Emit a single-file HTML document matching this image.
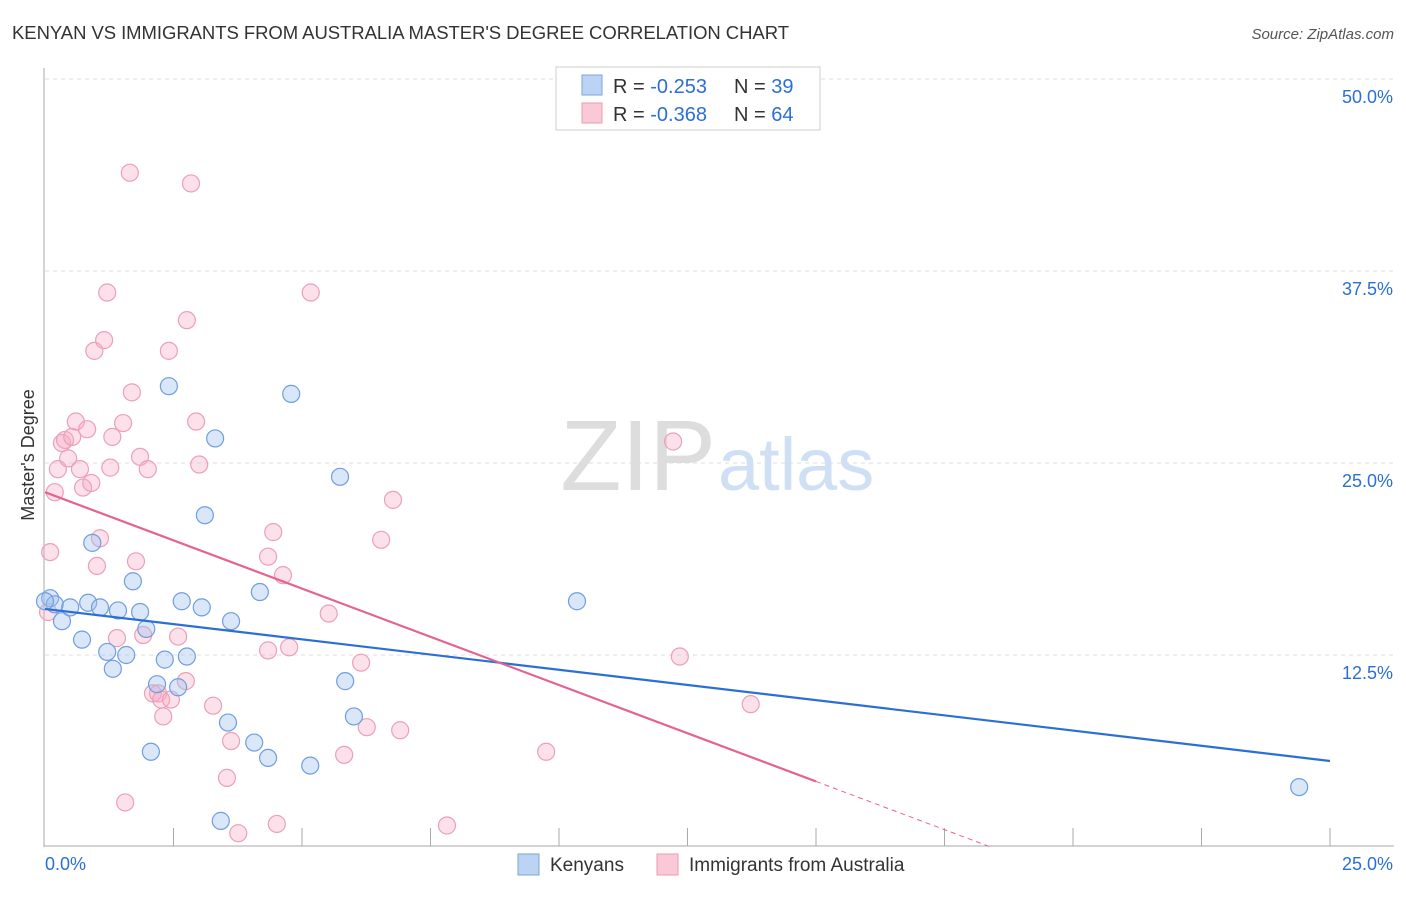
<!DOCTYPE html>
<html><head><meta charset="utf-8"><style>
body{margin:0;background:#fff;font-family:"Liberation Sans",sans-serif;}
svg text{font-family:"Liberation Sans",sans-serif;}
</style></head><body>
<svg id="chart" width="1406" height="892">
<text x="12" y="39" font-size="18.5" fill="#333" textLength="777">KENYAN VS IMMIGRANTS FROM AUSTRALIA MASTER'S DEGREE CORRELATION CHART</text>
<text x="1394" y="39" font-size="15" fill="#555" font-style="italic" text-anchor="end">Source: ZipAtlas.com</text>
<g id="grid"></g>
<text x="716" y="490" font-size="100" fill="#ddd" font-family="Liberation Serif" text-anchor="end">ZIP</text>
<text x="718" y="490" font-size="74" fill="#cfe0f5">atlas</text>
<text transform="translate(34,455) rotate(-90)" font-size="18" fill="#333" text-anchor="middle">Master's Degree</text>
<g id="points"></g>
<g id="lines"></g>
<g>
<rect x="556" y="67" width="264" height="63" fill="#fff" stroke="#ccc"/>
<rect x="582" y="75" width="20" height="20" fill="#bcd3f3" stroke="#7aa3e0"/>
<text x="613" y="93" font-size="20" fill="#333">R = <tspan fill="#2b6fd6">-0.253</tspan></text>
<text x="734" y="93" font-size="20" fill="#333">N = <tspan fill="#2b6fd6">39</tspan></text>
<rect x="582" y="103" width="20" height="20" fill="#f9c9d7" stroke="#eb9ab2"/>
<text x="613" y="121" font-size="20" fill="#333">R = <tspan fill="#2b6fd6">-0.368</tspan></text>
<text x="734" y="121" font-size="20" fill="#333">N = <tspan fill="#2b6fd6">64</tspan></text>
</g>
<g>
<rect x="518" y="854" width="21" height="21" fill="#bcd3f3" stroke="#7aa3e0"/>
<text x="550" y="871" font-size="19" fill="#333">Kenyans</text>
<rect x="657" y="854" width="21" height="21" fill="#f9c9d7" stroke="#eb9ab2"/>
<text x="689" y="871" font-size="19" fill="#333">Immigrants from Australia</text>
</g>
</svg>
<script>
const yTicks=[12.5,25,37.5,50];
const xTickLabels=["0.0%","25.0%"];
const blueX=[0.1,0.19,0.33,0.49,0.72,0.84,0.92,1.07,1.21,1.32,1.42,1.58,1.71,1.85,1.97,2.06,2.18,2.33,2.41,2.59,2.66,2.76,3.05,3.11,3.31,3.42,3.56,3.62,4.07,4.18,4.34,4.79,5.16,5.74,5.84,6.01,10.35,24.4,0.0];
const blueY=[16.2,15.8,14.7,15.6,13.5,15.9,19.8,15.6,12.7,11.6,15.4,12.5,17.3,15.3,14.2,6.2,10.6,12.2,30.0,10.4,16.0,12.4,15.6,21.6,26.6,1.7,8.1,14.7,6.8,16.6,5.8,29.5,5.3,24.1,10.8,8.5,16.0,3.9,16.0];
const pinkX=[0.06,0.1,0.19,0.25,0.33,0.39,0.45,0.53,0.6,0.68,0.74,0.82,0.9,0.96,1.01,1.07,1.15,1.21,1.27,1.31,1.4,1.52,1.56,1.65,1.69,1.77,1.85,1.91,2.0,2.1,2.2,2.26,2.3,2.41,2.45,2.59,2.74,2.76,2.84,2.94,3.0,3.27,3.54,3.62,3.76,4.34,4.34,4.44,4.51,4.63,4.75,5.17,5.52,5.82,6.15,6.26,6.54,6.77,6.91,7.82,9.75,12.22,12.35,13.73];
const pinkY=[15.3,19.2,23.1,24.6,26.3,26.5,25.3,26.7,27.7,24.6,23.4,27.2,23.7,32.3,18.3,20.1,33.0,36.1,24.7,26.7,13.6,27.6,2.9,43.9,29.6,18.6,25.4,13.8,24.6,10.0,10.0,9.6,8.5,32.3,9.6,13.7,10.8,34.3,43.2,27.7,24.9,9.2,4.5,6.9,0.9,12.8,18.9,20.5,1.5,17.7,13.0,36.1,15.2,6.0,12.0,7.8,20.0,22.6,7.6,1.4,6.2,26.4,12.4,9.3];
const blueLine=[15.5,5.6]; // y at x=0 and x=25
const pinkLine=[23.1,18.4]; // y at x=0, x-intercept
const NS="http://www.w3.org/2000/svg";
const X0=45,X1=1330,Y0=847,Y1=79;
const sx=v=>X0+(X1-X0)*v/25, sy=v=>Y0-(Y0-Y1)*v/50;
function mk(t,a,p){const e=document.createElementNS(NS,t);for(const k in a)e.setAttribute(k,a[k]);p.appendChild(e);return e;}
const grid=document.getElementById('grid');
yTicks.forEach(t=>{
 const l=mk('line',{x1:45,x2:1394,y1:sy(t),y2:sy(t),stroke:'#ddd','stroke-dasharray':'4,4'},grid);
 
 
 const tx=mk('text',{x:1393,y:sy(t)+24,'font-size':18,fill:'#2b6fd6','text-anchor':'end'},grid);
 tx.textContent=t.toFixed(1)+'%';
 
 
});
const ax=mk('line',{x1:44,x2:44,y1:68,y2:847,stroke:'#aaa'},grid);


const bx=mk('line',{x1:44,x2:1394,y1:846,y2:846,stroke:'#aaa'},grid);


for(let i=1;i<=10;i++){const x=sx(i*2.5);const t=mk('line',{x1:x,x2:x,y1:828,y2:846,stroke:'#aaa'},grid);
 
 }
xTickLabels.forEach((s,i)=>{const t=mk('text',{x:i?1393:45,y:870,'font-size':18,fill:'#2b6fd6','text-anchor':i?'end':'start'},grid);t.textContent=s;
 
 });
const pts=document.getElementById('points');
pinkX.forEach((v,i)=>{const c=mk('circle',{cx:sx(v),cy:sy(pinkY[i]),r:8.5,fill:'rgba(246,170,195,0.35)',stroke:'#eba0b8','stroke-width':1.2},pts);
 
 });
blueX.forEach((v,i)=>{const c=mk('circle',{cx:sx(v),cy:sy(blueY[i]),r:8.5,fill:'rgba(160,195,238,0.4)',stroke:'#6f9ee0','stroke-width':1.2},pts);
 
 });
const ln=document.getElementById('lines');
const b=mk('line',{x1:sx(0),y1:sy(blueLine[0]),x2:sx(25),y2:sy(blueLine[1]),stroke:'#2b6fd6','stroke-width':2.2},ln);


const pyAt=x=>pinkLine[0]*(1-x/pinkLine[1]);
const p=mk('line',{x1:sx(0),y1:sy(pyAt(0)),x2:sx(15),y2:sy(pyAt(15)),stroke:'#e5648e','stroke-width':2.2},ln);


const pd=mk('line',{x1:sx(15),y1:sy(pyAt(15)),x2:sx(pinkLine[1]),y2:sy(0),stroke:'#e5648e','stroke-width':1,'stroke-dasharray':'5,4'},ln);


</script>
</body></html>
